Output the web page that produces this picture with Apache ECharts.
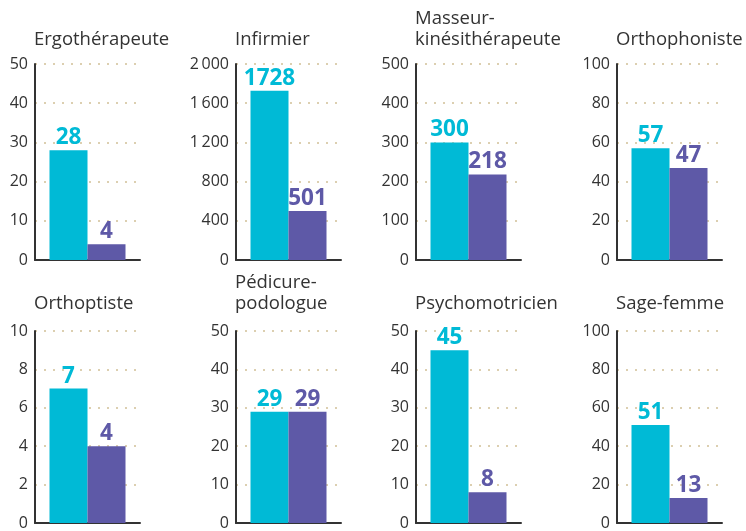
<!DOCTYPE html>
<html>
<head>
<meta charset="utf-8">
<script src="https://cdn.jsdelivr.net/npm/echarts@6/dist/echarts.min.js"></script>
<style>
  html, body { margin: 0; padding: 0; background: #fff; }
  #chart { width: 746px; height: 531px; }
</style>
</head>
<body>
<div id="chart"></div>
<script>
// données
const titles = ['Ergothérapeute', 'Infirmier', 'Masseur-\nkinésithérapeute', 'Orthophoniste',
                'Orthoptiste', 'Pédicure-\npodologue', 'Psychomotricien', 'Sage-femme'];
const firstValues = [28, 1728, 300, 57, 7, 29, 45, 51];
const secondValues = [4, 501, 218, 47, 4, 29, 8, 13];
const axisMax = [50, 2000, 500, 100, 10, 50, 50, 100];
const axisStep = [10, 400, 100, 20, 2, 10, 10, 20];

const CYAN = '#00BAD6';
const PURPLE = '#5E59A7';
const colLeft = [35, 236, 416, 617];
const rowTop = [64, 331];
const titleMid = [40, 304];   // centre vertical de la dernière ligne du titre
const plotW = 105, plotH = 196;
const LH = 21;

const chart = echarts.init(document.getElementById('chart'));

const grid = [], xAxis = [], yAxis = [], series = [], title = [];

titles.forEach(function (t, i) {
  const row = Math.floor(i / 4);
  const left = colLeft[i % 4];
  const top = rowTop[row];
  const lines = t.split('\n').length;

  grid.push({ left: left, top: top, width: plotW, height: plotH });

  title.push({
    text: t,
    left: left - 1,
    top: titleMid[row] - LH / 2 - (lines - 1) * LH,
    padding: 0,
    textStyle: { fontFamily: 'Open Sans', fontSize: 18.5, fontWeight: 'normal', color: '#333', lineHeight: LH }
  });

  xAxis.push({
    type: 'category', gridIndex: i, data: [''],
    axisLine: { lineStyle: { color: '#333', width: 2 } },
    axisTick: { show: false }, axisLabel: { show: false }
  });

  yAxis.push({
    type: 'value', gridIndex: i, min: 0, max: axisMax[i], interval: axisStep[i],
    axisLine: { show: true, lineStyle: { color: '#333', width: 2 } },
    axisTick: { show: false },
    axisLabel: {
      color: '#333', fontFamily: 'Open Sans', fontSize: 16, margin: 7,
      formatter: function (v) { return v >= 1000 ? String(v).replace(/(\d)(\d{3})$/, '$1\u2009$2') : String(v); }
    },
    splitLine: { lineStyle: { color: '#DCCFB0', width: 2, type: [2, 7] } }
  });

  [[firstValues, CYAN], [secondValues, PURPLE]].forEach(function (s) {
    series.push({
      type: 'bar', xAxisIndex: i, yAxisIndex: i,
      data: [s[0][i]], barWidth: 38, barGap: '0%',
      itemStyle: { color: s[1] },
      label: {
        show: true, position: 'top', distance: 1,
        color: s[1], fontFamily: 'Open Sans', fontWeight: 'bold', fontSize: 22.5
      },
      silent: true
    });
  });
});

chart.setOption({ animation: false, title: title, grid: grid, xAxis: xAxis, yAxis: yAxis, series: series });
</script>
</body>
</html>
